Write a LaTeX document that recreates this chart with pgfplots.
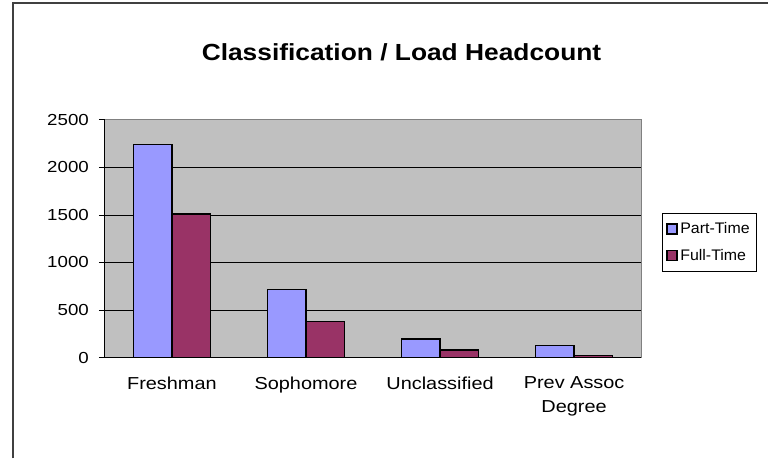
\documentclass[border=0pt]{standalone}
\usepackage{pgfplots}
\pgfplotsset{compat=1.18}
\usepackage{fontspec}
\setmainfont{Liberation Sans}
\newfontfamily\titlefont[FakeStretch=1.13]{Liberation Sans}
\newfontfamily\tickfont[FakeStretch=1.17]{Liberation Sans}
\newfontfamily\catfont[FakeStretch=1.15]{Liberation Sans}
\newfontfamily\legfont[FakeStretch=1.04]{Liberation Sans}

\definecolor{parttime}{HTML}{9999FF}
\definecolor{fulltime}{HTML}{993366}
\definecolor{plotgray}{HTML}{C0C0C0}
\definecolor{framegray}{HTML}{404040}

\begin{document}
\begin{tikzpicture}[x=0.75pt,y=0.75pt]
    % 1px = 0.75pt; origin = lower left corner of the plot area
    \begin{axis}[
            anchor=south west,
            width=402.75pt, height=178.5pt, scale only axis,
            ybar=0pt,
            bar width=28.9pt,
            xmin=-0.5, xmax=3.5,
            ymin=0, ymax=2500,
            ytick={0,500,...,2500},
            xtick={0,1,2,3},
            xticklabels={Freshman, Sophomore, Unclassified, {Prev Assoc\\Degree}},
            extra x ticks={-0.5,0.5,1.5,2.5,3.5},
            extra x tick labels={},
            extra x tick style={major tick length=5pt, tick style={black, line width=0.6pt}},
            x tick style={draw=none},
            y tick style={black, line width=0.6pt},
            major tick length=4.5pt,
            tick align=outside,
            axis x line*=bottom, axis y line*=left,
            axis line style={black, line width=0.8pt, -},
            axis background/.style={fill=plotgray},
            ymajorgrids, grid style={black, line width=0.6pt},
            yticklabel style={font=\tickfont\fontsize{12}{14}\selectfont, xshift=-4pt},
            xticklabel style={font=\catfont\fontsize{13}{17.5}\selectfont, align=center, yshift=-6.5pt},
            /pgf/number format/assume math mode=true,
            /pgf/number format/set thousands separator={},
            legend style={at={(1.039,0.609)}, anchor=north west, draw=black, line width=0.6pt,
                font=\legfont\fontsize{11.5}{13}\selectfont, inner xsep=3pt, inner ysep=5pt,
                row sep=6pt, cells={anchor=west}},
            legend image code/.code={\draw[#1, line width=0.9pt] (0pt,-3.75pt) rectangle (7.5pt,3.75pt);},
            clip=false
        ]
        \draw[gray, line width=0.8pt] (rel axis cs:0,1) -- (rel axis cs:1,1) -- (rel axis cs:1,0);
        \addplot[fill=parttime, draw=black, line width=1pt] coordinates {(0,2240) (1,717) (2,194) (3,126)};
        \addplot[fill=fulltime, draw=black, line width=1pt] coordinates {(0,1510) (1,378) (2,78) (3,24)};
        \addlegendentry{Part-Time}
        \addlegendentry{Full-Time}
    \end{axis}

    \draw[framegray, line width=1.5pt] (-92,-101) -- (-92,355) -- (664,355);
    \node[anchor=base, font=\titlefont\bfseries\fontsize{17.5}{20}\selectfont] at (297,297) {Classification / Load Headcount};
    \useasboundingbox (-105,-101) rectangle (664,358);
\end{tikzpicture}
\end{document}
